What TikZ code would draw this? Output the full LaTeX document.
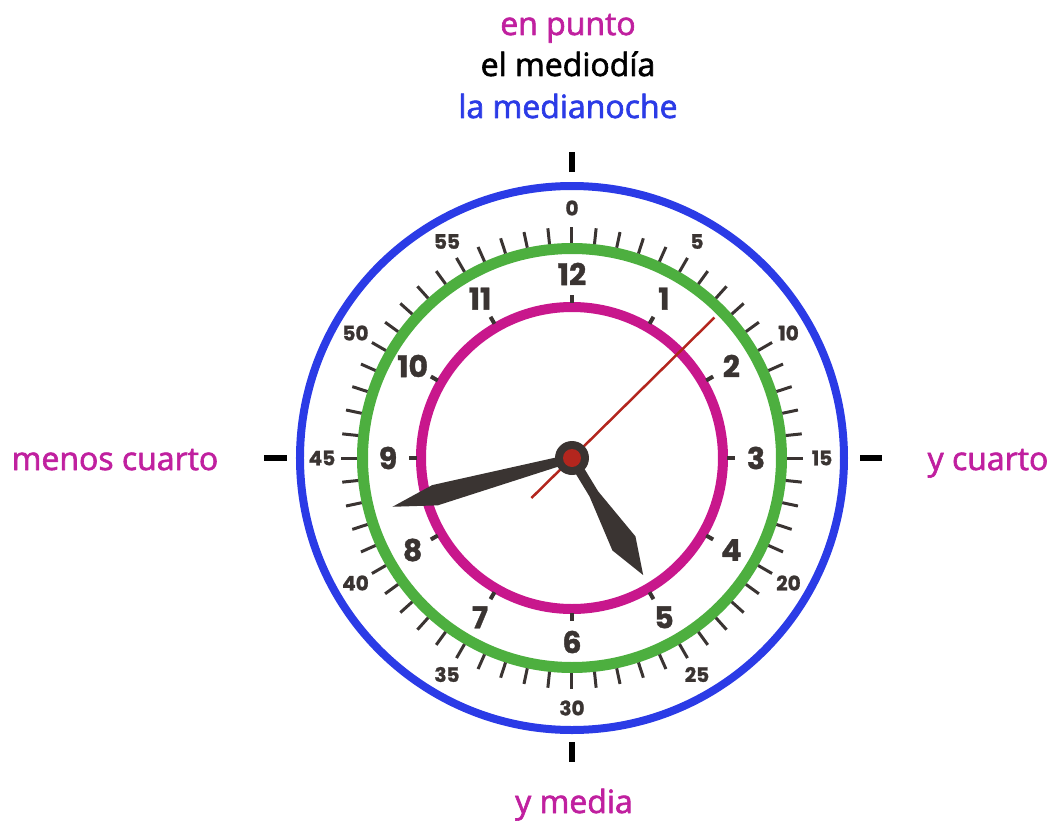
\documentclass[tikz,border=0pt]{standalone}
\usepackage{fontspec}
\setmainfont{Open Sans}[FakeBold=2]
\newfontfamily\dialfont{Poppins}[BoldFeatures={FakeBold=1.2}]
\usetikzlibrary{calc}

\definecolor{ringblue}{HTML}{2B3BE6}
\definecolor{ringgreen}{HTML}{4DAF3F}
\definecolor{ringpink}{HTML}{C8178C}
\definecolor{labelpink}{HTML}{C0209F}
\definecolor{dialgray}{HTML}{3A3432}
\definecolor{handred}{HTML}{B3261E}

\tikzset{
  phrase/.style={font=\fontsize{32}{38}\selectfont, inner sep=0pt},
  hournum/.style={font=\dialfont\bfseries\fontsize{30}{32}\selectfont, text=dialgray, inner sep=0pt},
  minnum/.style={font=\dialfont\bfseries\fontsize{20}{22}\selectfont, text=dialgray, inner sep=0pt},
  cardinal/.style={line width=6pt, black},
  minutetick/.style={line width=3pt, dialgray},
  hourtick/.style={line width=4pt, dialgray},
}

\begin{document}
\begin{tikzpicture}[x=1pt, y=1pt, line join=round]
    \useasboundingbox (-572,-362) rectangle (483,458);

    % Rings
    \draw[ringblue, line width=8pt] (0,0) circle (272);
    \draw[ringgreen, line width=11pt] (0,0) circle (209.5);
    \draw[ringpink, line width=10pt] (0,0) circle (151);

    % Minute ticks
    \foreach \m in {0,...,59}{
        \draw[minutetick] (90-6*\m:215) -- (90-6*\m:231);
    }
    % Hour ticks
    \foreach \h in {1,...,12}{
        \draw[hourtick] (90-30*\h:155) -- (90-30*\h:163);
    }

    % Minute numbers
    \foreach \m in {0,5,...,55}{
        \node[minnum] (m\m) at (90-6*\m:250) {\m};
    }
    % Hour numbers
    \foreach \h in {1,...,12}{
        \node[hournum] (h\h) at (90-30*\h:184) {\h};
    }

    % Marks outside the dial
    \draw[cardinal] (0,286) -- (0,306);
    \draw[cardinal] (0,-284) -- (0,-304);
    \draw[cardinal] (-285,0) -- (-308,0);
    \draw[cardinal] (288,0) -- (310,0);

    % Phrases
    \node[phrase, text=labelpink, anchor=base] (punto) at (-4,423) {en punto};
    \node[phrase, text=black, anchor=base] (mediodia) at (-4,382) {el mediodía};
    \node[phrase, text=ringblue, anchor=base] (medianoche) at (-4,340) {la medianoche};
    \node[phrase, text=labelpink, anchor=base] (menos) at (-457,-12) {menos cuarto};
    \node[phrase, text=labelpink, anchor=base] (cuarto) at (416,-12) {y cuarto};
    \node[phrase, text=labelpink, anchor=base] (media) at (2,-355) {y media};

    % Hour hand
    \begin{scope}[rotate=-58.7]
        \fill[dialgray] (0,-5) -- (42,-5) -- (100,-13.5) -- (137,0)
            -- (100,13.5) -- (42,5) -- (0,5) -- cycle;
    \end{scope}
    % Minute hand
    \begin{scope}[rotate=195.2]
        \fill[dialgray] (0,-4) -- (142,-10.5) -- (186,0)
            -- (142,10.5) -- (0,4) -- cycle;
    \end{scope}
    % Second hand
    \draw[handred, line width=2.5pt] (224.6:57) -- (44.6:200);

    % Centre cap
    \fill[dialgray] (0,0) circle (17);
    \fill[handred] (0,0) circle (9);
\end{tikzpicture}
\end{document}
